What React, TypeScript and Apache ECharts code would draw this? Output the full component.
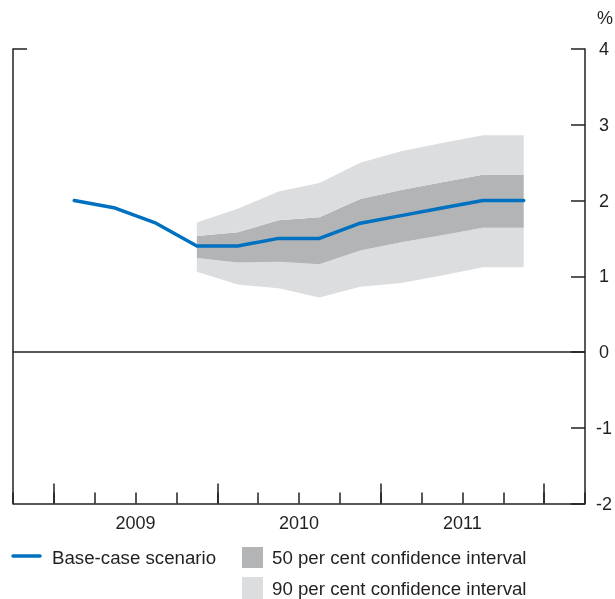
import React, { useEffect, useRef } from "react";
import * as echarts from "echarts";

// Quarterly categories shown on the horizontal axis (2008 Q4 to 2012 Q1)
const quarters = [
  "2008 Q4",
  "2009 Q1", "2009 Q2", "2009 Q3", "2009 Q4",
  "2010 Q1", "2010 Q2", "2010 Q3", "2010 Q4",
  "2011 Q1", "2011 Q2", "2011 Q3", "2011 Q4",
  "2012 Q1",
];
// Base-case scenario, 2009 Q1 to 2011 Q4
const baseStart = 1;
const baseCase = [2.0, 1.9, 1.7, 1.4, 1.4, 1.5, 1.5, 1.7, 1.8, 1.9, 2.0, 2.0];

// Fan chart, 2009 Q4 to 2011 Q4
const fanStart = 4;
const lower90 = [1.06, 0.89, 0.84, 0.72, 0.86, 0.91, 1.01, 1.12, 1.12];
const lower50 = [1.24, 1.18, 1.19, 1.16, 1.34, 1.45, 1.54, 1.64, 1.64];
const upper50 = [1.53, 1.58, 1.74, 1.78, 2.02, 2.14, 2.24, 2.34, 2.34];
const upper90 = [1.71, 1.89, 2.12, 2.23, 2.5, 2.65, 2.76, 2.86, 2.86];

const yearLabels = ["2009", "2010", "2011"];
const yTicks = [-2, -1, 0, 1, 2, 3, 4];

const BLUE = "#0070C0";
const DARK = "#B3B4B6";
const LIGHT = "#DCDDDF";
const INK = "#231F20";
const FONT = "'Liberation Sans', Arial, sans-serif";
const LEGEND_SIZE = 18.7;

export default function App() {
  const ref = useRef<HTMLDivElement>(null);

  useEffect(() => {
    if (!ref.current) return;
    const chart = echarts.init(ref.current, null, { renderer: "svg" });

    const r = (v: number) => Math.round(v * 1000) / 1000;
    const place = (vals: (number | null)[], start: number) =>
      quarters.map((_, i) => {
        const k = i - start;
        return k >= 0 && k < vals.length ? vals[k] : null;
      });

    const baseData = place(baseCase, baseStart);
    const s0 = place(lower90, fanStart);
    const s1 = place(lower50.map((v, i) => r(v - lower90[i])), fanStart);
    const s2 = place(upper50.map((v, i) => r(v - lower50[i])), fanStart);
    const s3 = place(upper90.map((v, i) => r(v - upper50[i])), fanStart);

    // second (value) x axis: t = 0 is the start of 2009, axis spans -1..13
    const yearCentres = yearLabels.map((_, i) => i * 4 + 2);
    const yearStarts = yearLabels.map((_, i) => i * 4).concat([12]);

    const axisLine = {
      show: true,
      onZero: false,
      lineStyle: { color: INK, width: 1.5 },
    };
    const band = (name: string, data: (number | null)[], color: string | null) => ({
      name,
      type: "line",
      stack: "fan",
      data,
      symbol: "none",
      silent: true,
      lineStyle: { width: 0, opacity: 0 },
      areaStyle: color ? { color, opacity: 1 } : undefined,
      z: 1,
    });
    const legendText = (text: string, x: number, y: number) => ({
      type: "text",
      x,
      y,
      style: {
        text,
        fontSize: LEGEND_SIZE,
        fontFamily: FONT,
        fill: INK,
        verticalAlign: "middle",
      },
    });

    chart.setOption({
      animation: false,
      grid: { left: 13, right: 29, top: 49, bottom: 95.5, containLabel: false },
      xAxis: [
        {
          type: "category",
          data: quarters,
          boundaryGap: true,
          position: "bottom",
          axisLine,
          splitLine: { show: false },
          axisTick: {
            show: true,
            inside: true,
            length: 11,
            interval: 0,
            lineStyle: { color: INK, width: 1.5 },
          },
          axisLabel: { show: false },
        },
        {
          type: "value",
          min: -1,
          max: 13,
          position: "bottom",
          offset: 0,
          axisLine: { show: false, onZero: false },
          splitLine: { show: false },
          axisTick: {
            show: true,
            inside: true,
            length: 20,
            customValues: yearStarts,
            lineStyle: { color: INK, width: 1.5 },
          },
          axisLabel: {
            show: true,
            customValues: yearCentres,
            formatter: (v: number) => {
              const k = yearCentres.indexOf(v);
              return k >= 0 ? yearLabels[k] : "";
            },
            margin: 10,
            fontSize: 18,
            fontFamily: FONT,
            color: INK,
          },
        },
      ],
      yAxis: [
        {
          type: "value",
          position: "right",
          min: -2,
          max: 4,
          interval: 1,
          axisLine,
          splitLine: { show: false },
          axisTick: {
            show: true,
            inside: true,
            length: 14,
            customValues: yTicks,
            lineStyle: { color: INK, width: 1.5 },
          },
          axisLabel: {
            show: true,
            margin: 19,
            align: "center",
            fontSize: 18,
            fontFamily: FONT,
            color: INK,
          },
        },
        {
          type: "value",
          position: "left",
          min: -2,
          max: 4,
          interval: 1,
          axisLine,
          splitLine: { show: false },
          axisLabel: { show: false },
          axisTick: {
            show: true,
            inside: true,
            length: 14,
            customValues: [4],
            lineStyle: { color: INK, width: 1.5 },
          },
        },
      ],
      series: [
        band("90 lower", s0, null),
        band("90 per cent confidence interval (lower)", s1, LIGHT),
        band("50 per cent confidence interval", s2, DARK),
        band("90 per cent confidence interval (upper)", s3, LIGHT),
        {
          name: "Base-case scenario",
          type: "line",
          data: baseData,
          symbol: "none",
          lineStyle: { color: BLUE, width: 3.5, cap: "round", join: "round" },
          z: 5,
          markLine: {
            silent: true,
            symbol: "none",
            label: { show: false },
            lineStyle: { color: INK, width: 1.5, type: "solid" },
            data: [{ yAxis: 0 }],
            z: 4,
          },
        },
      ],
      graphic: [
        {
          type: "text",
          x: 605,
          y: 18,
          style: {
            text: "%",
            fontSize: 18,
            fontFamily: FONT,
            fill: INK,
            align: "center",
            verticalAlign: "middle",
          },
        },
        {
          type: "line",
          shape: { x1: 13, y1: 556, x2: 40, y2: 556 },
          style: { stroke: BLUE, lineWidth: 3.5, lineCap: "round" },
        },
        legendText("Base-case scenario", 52, 557),
        {
          type: "rect",
          shape: { x: 242, y: 547, width: 21, height: 21 },
          style: { fill: DARK },
        },
        legendText("50 per cent confidence interval", 272, 557),
        {
          type: "rect",
          shape: { x: 242, y: 577, width: 21, height: 22 },
          style: { fill: LIGHT },
        },
        legendText("90 per cent confidence interval", 272, 588),
      ],
    });

    return () => chart.dispose();
  }, []);

  return (
    <div
      ref={ref}
      style={{ position: "fixed", left: 0, top: 0, width: 615, height: 599 }}
    />
  );
}
